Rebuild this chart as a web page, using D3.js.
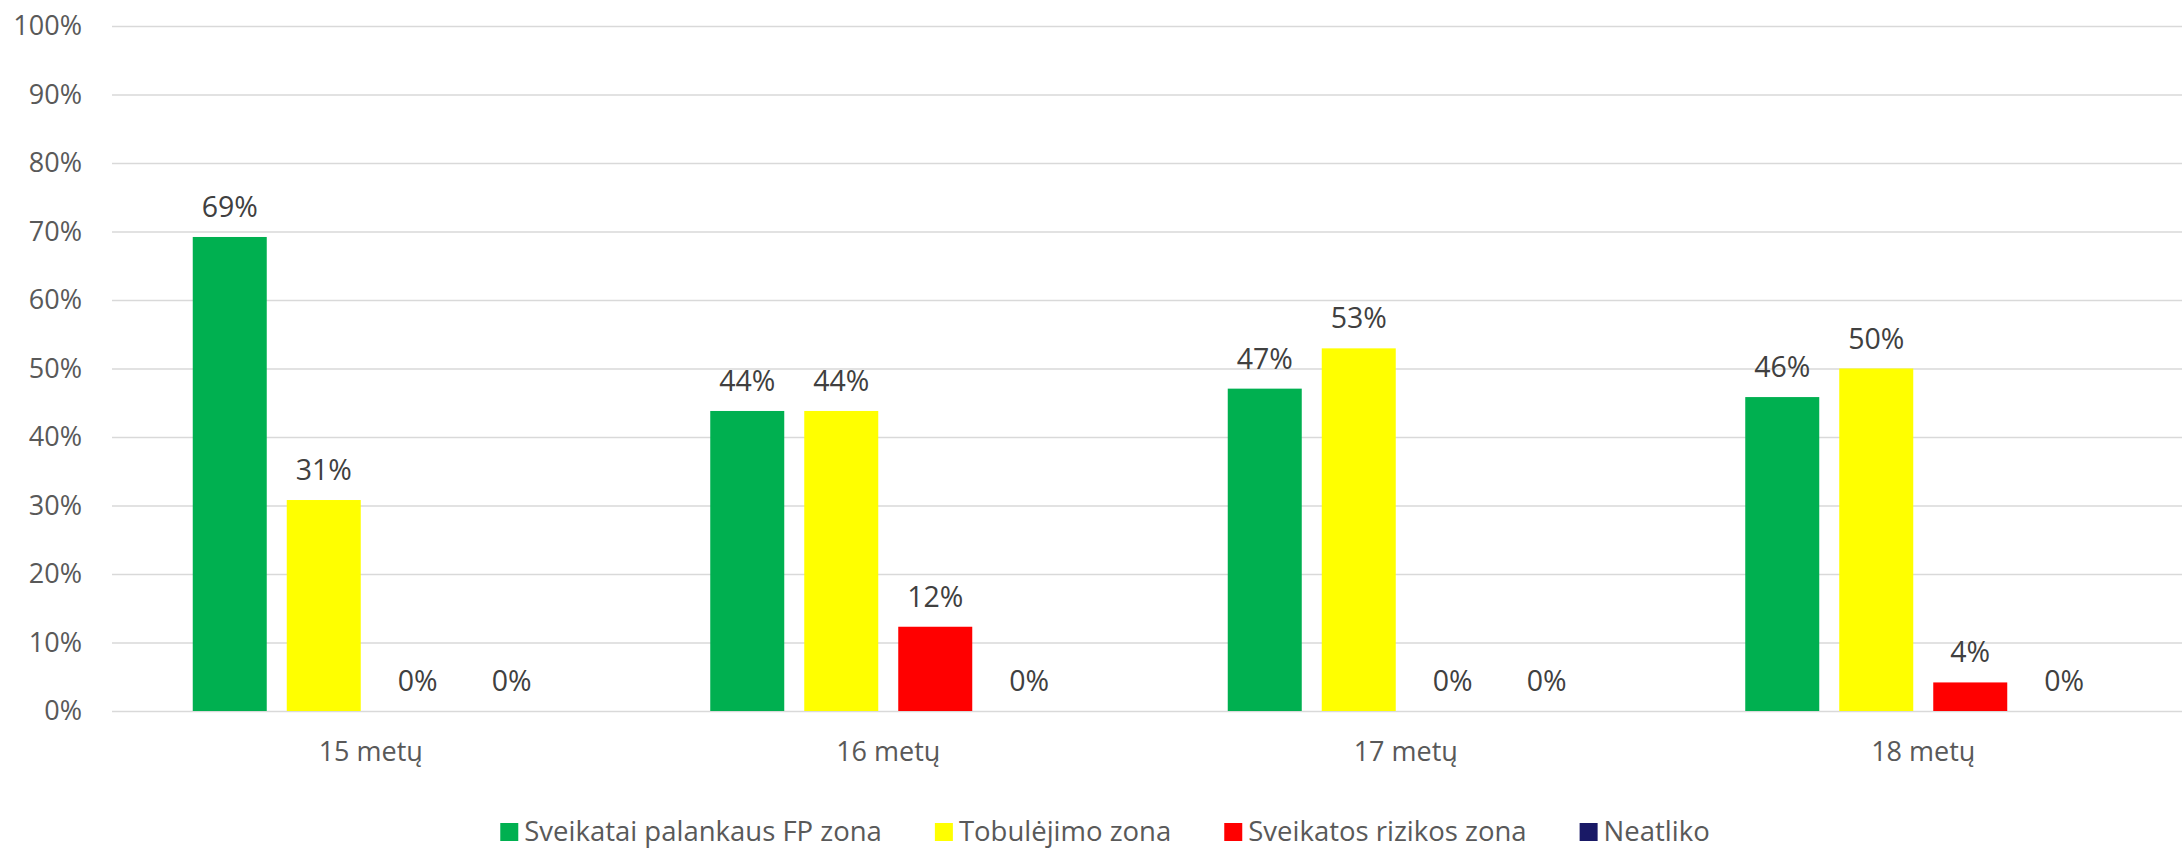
<!DOCTYPE html>
<html>
<head>
<meta charset="utf-8">
<script src="https://cdn.jsdelivr.net/npm/d3@7"></script>
<style>
  body { margin: 0; background: #fff; }
  svg { display: block; }
</style>
</head>
<body>
<div id="chart"></div>
<script>
const ages = ["15 metų", "16 metų", "17 metų", "18 metų"];
const seriesNames = ["Sveikatai palankaus FP zona", "Tobulėjimo zona", "Sveikatos rizikos zona", "Neatliko"];
const seriesColors = ["#00B050", "#FFFF00", "#FF0000", "#191966"];
// share in % per age, in the order of seriesNames
const green = [69.2, 43.8, 47.06, 45.83];
const yellow = [30.8, 43.8, 52.94, 50.0];
const red = [0, 12.3, 0, 4.17];
const navy = [0, 0, 0, 0];
const yTicks = [0, 10, 20, 30, 40, 50, 60, 70, 80, 90, 100];

function drawChart() {
    let w = 2182, h = 849;
    let margin = {top: 26, right: 0, bottom: 138, left: 112};
    const svg = d3.select("#chart").append("svg")
        .attr("width", w).attr("height", h);

    const values = [green, yellow, red, navy];
    const data = ages.map((a, i) => ({
        age: a,
        vals: values.map((s, j) => ({key: seriesNames[j], value: s[i]}))
    }));

    let x0 = d3.scaleBand().domain(ages)
        .range([margin.left, w - margin.right]).padding(0);
    // each group: 4 bars, 74px wide, 20px gap
    let groupW = 356;
    let x1 = d3.scaleBand().domain(seriesNames)
        .range([0, groupW]).paddingInner(20 / 94).paddingOuter(0);
    let y = d3.scaleLinear().domain([0, 100])
        .range([h - margin.bottom, margin.top]);
    let color = d3.scaleOrdinal().domain(seriesNames).range(seriesColors);

    // grid + y labels
    const yAxis = svg.append("g")
        .attr("transform", `translate(${margin.left},0)`)
        .call(d3.axisLeft(y).tickValues(yTicks)
            .tickSize(-(w - margin.left - margin.right))
            .tickFormat(d => d + "%").tickPadding(30));
    yAxis.select(".domain").remove();
    yAxis.selectAll("line").attr("stroke", "#d9d9d9").attr("stroke-width", 1.5);
    yAxis.selectAll("text")
        .attr("fill", "#595959")
        .attr("font-family", "Open Sans")
        .attr("font-size", "27px");

    const groups = svg.selectAll("g.grp")
        .data(data).enter().append("g")
        .attr("class", "grp")
        .attr("transform", d => `translate(${x0(d.age) + (x0.bandwidth() - groupW) / 2},0)`);

    groups.selectAll("rect")
        .data(d => d.vals).enter().append("rect")
        .attr("x", d => x1(d.key))
        .attr("width", x1.bandwidth())
        .attr("y", d => y(d.value))
        .attr("height", d => y(0) - y(d.value))
        .attr("fill", d => color(d.key));

    groups.selectAll("text.lbl")
        .data(d => d.vals).enter().append("text")
        .attr("class", "lbl")
        .attr("x", d => x1(d.key) + x1.bandwidth() / 2)
        .attr("y", d => y(d.value) - 20)
        .attr("text-anchor", "middle")
        .attr("font-family", "Open Sans")
        .attr("font-size", "28.5px")
        .attr("fill", "#404040")
        .text(d => Math.round(d.value) + "%");

    // x axis labels
    const xAxis = svg.append("g")
        .attr("transform", `translate(0,${h - margin.bottom})`)
        .call(d3.axisBottom(x0).tickSize(0).tickPadding(31));
    xAxis.select(".domain").remove();
    xAxis.selectAll("text")
        .attr("fill", "#595959")
        .attr("font-family", "Open Sans")
        .attr("font-size", "27px");

    // legend
    const legend = svg.append("g");
    let cx = 0;
    seriesNames.forEach((name, i) => {
        const item = legend.append("g").attr("transform", `translate(${cx},0)`);
        item.append("rect")
            .attr("x", 0).attr("y", 823)
            .attr("width", 18).attr("height", 18)
            .attr("fill", seriesColors[i]);
        const t = item.append("text")
            .attr("x", 24).attr("y", 841)
            .attr("font-family", "Open Sans")
            .attr("font-size", "27.5px")
            .attr("fill", "#595959")
            .text(name);
        cx += 24 + t.node().getComputedTextLength() + 53;
    });
    const legW = cx - 53;
    legend.attr("transform", `translate(${1105 - legW / 2},0)`);
}
drawChart();
</script>
</body>
</html>
